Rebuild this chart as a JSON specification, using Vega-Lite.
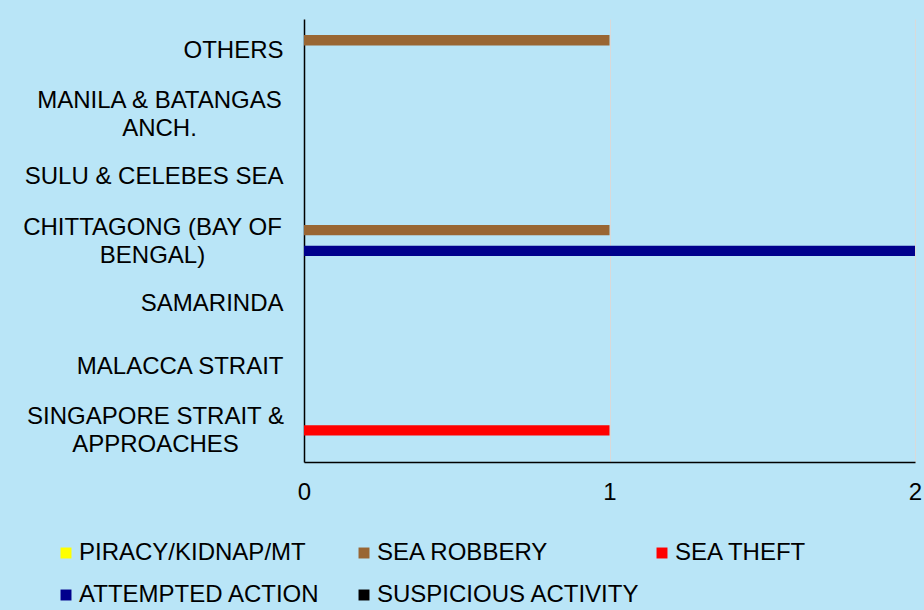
{
  "$schema": "https://vega.github.io/schema/vega-lite/v6.json",
  "width": 611,
  "height": 443,
  "autosize": {"type": "none"},
  "padding": {"left": 304, "top": 19, "right": 9, "bottom": 148},
  "background": "#B9E5F7",
  "config": {"view": {"stroke": null}, "font": "Liberation Sans"},
  "data": {
    "values": [
      {"location": "SINGAPORE STRAIT & APPROACHES", "type": "PIRACY/KIDNAP/MT", "count": 0},
      {"location": "SINGAPORE STRAIT & APPROACHES", "type": "SEA ROBBERY", "count": 0},
      {"location": "SINGAPORE STRAIT & APPROACHES", "type": "SEA THEFT", "count": 1},
      {"location": "SINGAPORE STRAIT & APPROACHES", "type": "ATTEMPTED ACTION", "count": 0},
      {"location": "SINGAPORE STRAIT & APPROACHES", "type": "SUSPICIOUS ACTIVITY", "count": 0},
      {"location": "MALACCA STRAIT", "type": "PIRACY/KIDNAP/MT", "count": 0},
      {"location": "MALACCA STRAIT", "type": "SEA ROBBERY", "count": 0},
      {"location": "MALACCA STRAIT", "type": "SEA THEFT", "count": 0},
      {"location": "MALACCA STRAIT", "type": "ATTEMPTED ACTION", "count": 0},
      {"location": "MALACCA STRAIT", "type": "SUSPICIOUS ACTIVITY", "count": 0},
      {"location": "SAMARINDA", "type": "PIRACY/KIDNAP/MT", "count": 0},
      {"location": "SAMARINDA", "type": "SEA ROBBERY", "count": 0},
      {"location": "SAMARINDA", "type": "SEA THEFT", "count": 0},
      {"location": "SAMARINDA", "type": "ATTEMPTED ACTION", "count": 0},
      {"location": "SAMARINDA", "type": "SUSPICIOUS ACTIVITY", "count": 0},
      {"location": "CHITTAGONG (BAY OF BENGAL)", "type": "PIRACY/KIDNAP/MT", "count": 0},
      {"location": "CHITTAGONG (BAY OF BENGAL)", "type": "SEA ROBBERY", "count": 1},
      {"location": "CHITTAGONG (BAY OF BENGAL)", "type": "SEA THEFT", "count": 0},
      {"location": "CHITTAGONG (BAY OF BENGAL)", "type": "ATTEMPTED ACTION", "count": 2},
      {"location": "CHITTAGONG (BAY OF BENGAL)", "type": "SUSPICIOUS ACTIVITY", "count": 0},
      {"location": "SULU & CELEBES SEA", "type": "PIRACY/KIDNAP/MT", "count": 0},
      {"location": "SULU & CELEBES SEA", "type": "SEA ROBBERY", "count": 0},
      {"location": "SULU & CELEBES SEA", "type": "SEA THEFT", "count": 0},
      {"location": "SULU & CELEBES SEA", "type": "ATTEMPTED ACTION", "count": 0},
      {"location": "SULU & CELEBES SEA", "type": "SUSPICIOUS ACTIVITY", "count": 0},
      {"location": "MANILA & BATANGAS ANCH.", "type": "PIRACY/KIDNAP/MT", "count": 0},
      {"location": "MANILA & BATANGAS ANCH.", "type": "SEA ROBBERY", "count": 0},
      {"location": "MANILA & BATANGAS ANCH.", "type": "SEA THEFT", "count": 0},
      {"location": "MANILA & BATANGAS ANCH.", "type": "ATTEMPTED ACTION", "count": 0},
      {"location": "MANILA & BATANGAS ANCH.", "type": "SUSPICIOUS ACTIVITY", "count": 0},
      {"location": "OTHERS", "type": "PIRACY/KIDNAP/MT", "count": 0},
      {"location": "OTHERS", "type": "SEA ROBBERY", "count": 1},
      {"location": "OTHERS", "type": "SEA THEFT", "count": 0},
      {"location": "OTHERS", "type": "ATTEMPTED ACTION", "count": 0},
      {"location": "OTHERS", "type": "SUSPICIOUS ACTIVITY", "count": 0}
    ]
  },
  "mark": {"type": "bar"},
  "encoding": {
    "y": {
      "field": "location",
      "type": "nominal",
      "sort": ["OTHERS", "MANILA & BATANGAS ANCH.", "SULU & CELEBES SEA", "CHITTAGONG (BAY OF BENGAL)", "SAMARINDA", "MALACCA STRAIT", "SINGAPORE STRAIT & APPROACHES"],
      "scale": {"paddingInner": 0.18, "paddingOuter": 0.09},
      "axis": {
        "title": null,
        "ticks": false,
        "tickSize": 0,
        "grid": false,
        "domainColor": "#000000",
        "domainWidth": 1.5,
        "labelFontSize": 24,
        "labelColor": "#000000",
        "labelLimit": 400,
        "labelLineHeight": 28,
        "labelExpr": "datum.label == 'MANILA & BATANGAS ANCH.' ? ['MANILA & BATANGAS', 'ANCH.'] : datum.label == 'CHITTAGONG (BAY OF BENGAL)' ? ['CHITTAGONG (BAY OF', 'BENGAL)'] : datum.label == 'SINGAPORE STRAIT & APPROACHES' ? ['SINGAPORE STRAIT &', 'APPROACHES'] : datum.label",
        "labelAlign": {
          "condition": {"test": "indexof(['MANILA & BATANGAS ANCH.', 'CHITTAGONG (BAY OF BENGAL)', 'SINGAPORE STRAIT & APPROACHES'], datum.value) >= 0", "value": "center"},
          "value": "right"
        },
        "labelPadding": {
          "condition": {"test": "indexof(['MANILA & BATANGAS ANCH.', 'CHITTAGONG (BAY OF BENGAL)', 'SINGAPORE STRAIT & APPROACHES'], datum.value) >= 0", "expr": "datum.value == 'MANILA & BATANGAS ANCH.' ? 145 : datum.value == 'CHITTAGONG (BAY OF BENGAL)' ? 152 : 149"},
          "value": 21
        },
        "labelOffset": {
          "condition": {"test": "indexof(['MANILA & BATANGAS ANCH.', 'CHITTAGONG (BAY OF BENGAL)', 'SINGAPORE STRAIT & APPROACHES'], datum.value) >= 0", "value": -13},
          "value": 0
        }
      }
    },
    "yOffset": {
      "field": "type",
      "type": "nominal",
      "sort": ["PIRACY/KIDNAP/MT", "SEA ROBBERY", "SEA THEFT", "ATTEMPTED ACTION", "SUSPICIOUS ACTIVITY"],
      "scale": {"paddingInner": 0, "paddingOuter": 0}
    },
    "x": {
      "field": "count",
      "type": "quantitative",
      "scale": {"domain": [0, 2], "nice": false},
      "axis": {
        "title": null,
        "ticks": false,
        "tickCount": 2,
        "format": "d",
        "grid": true,
        "gridColor": "#D9D9D9",
        "gridWidth": 1,
        "domainColor": "#000000",
        "domainWidth": 1.5,
        "labelFontSize": 24,
        "labelColor": "#000000",
        "labelPadding": 18,
        "labelFlush": false,
        "labelOverlap": false
      }
    },
    "color": {
      "field": "type",
      "type": "nominal",
      "scale": {
        "domain": ["PIRACY/KIDNAP/MT", "SEA ROBBERY", "SEA THEFT", "ATTEMPTED ACTION", "SUSPICIOUS ACTIVITY"],
        "range": ["#FFFF00", "#996633", "#FF0000", "#00008C", "#000000"]
      },
      "legend": {
        "title": null,
        "orient": "none",
        "legendX": -250,
        "legendY": 522,
        "direction": "horizontal",
        "columns": 3,
        "gridAlign": "all",
        "columnPadding": 10,
        "rowPadding": 18,
        "padding": 0,
        "symbolType": "square",
        "symbolSize": 120,
        "symbolStrokeWidth": 0,
        "symbolOpacity": 1,
        "labelFontSize": 24,
        "labelColor": "#000000",
        "labelOffset": 1,
        "labelLimit": 0
      }
    }
  }
}
